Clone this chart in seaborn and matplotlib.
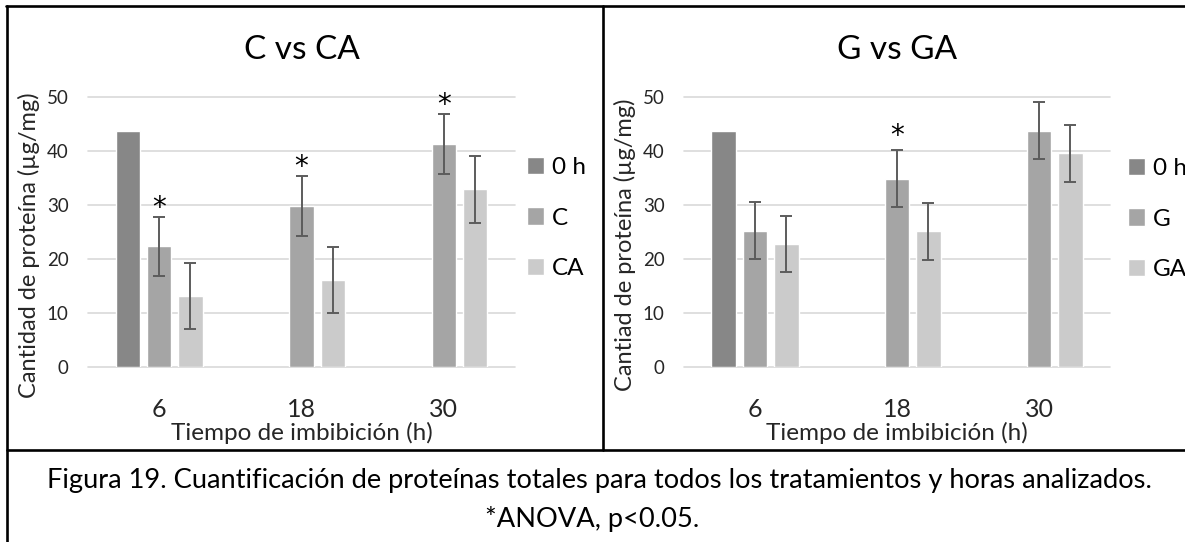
import matplotlib
matplotlib.use("Agg")
import matplotlib.pyplot as plt
import seaborn as sns
import pandas as pd
from matplotlib.lines import Line2D

# ---------------- data ----------------
times = ["6", "18", "30"]

left_series = ["0 h", "C", "CA"]
left_0h = [43.8]                      # only measured at 6 h
left_C = [22.4, 29.9, 41.35]
left_CA = [13.2, 16.2, 33.0]
left_C_err = [5.5, 5.5, 5.55]
left_CA_err = [6.1, 6.15, 6.2]
left_sig = ["6", "18", "30"]          # asterisk over C bars

right_series = ["0 h", "G", "GA"]
right_0h = [43.8]
right_G = [25.3, 34.9, 43.85]
right_GA = [22.85, 25.15, 39.6]
right_G_err = [5.3, 5.3, 5.35]
right_GA_err = [5.25, 5.25, 5.3]
right_sig = ["18"]                    # asterisk over G bars

left_title = "C vs CA"
right_title = "G vs GA"
left_ylabel = "Cantidad de proteína (µg/mg)"
right_ylabel = "Cantiad de proteína (µg/mg)"
xlabel = "Tiempo de imbibición (h)"
caption1 = "Figura 19. Cuantificación de proteínas totales para todos los tratamientos y horas analizados."
caption2 = "*ANOVA, p<0.05."

colors = ["#878787", "#a5a5a5", "#cbcbcb"]

# ---------------- style ----------------
sns.set_style("white")
plt.rcParams["font.family"] = ["Lato", "DejaVu Sans"]
plt.rcParams["text.color"] = "black"

W, H = 1185, 542
fig = plt.figure(figsize=(W / 100, H / 100), dpi=100)


def build(series, v0, v1, v2, e1, e2):
    rows = []
    for t, v in zip(times, v0):
        rows.append((t, series[0], v, 0.0))
    for t, v, e in zip(times, v1, e1):
        rows.append((t, series[1], v, e))
    for t, v, e in zip(times, v2, e2):
        rows.append((t, series[2], v, e))
    return pd.DataFrame(rows, columns=["time", "series", "value", "err"])


def draw(ax, df, series, sig, title, ylabel, leg_xy, star_pts):
    sns.barplot(data=df, x="time", y="value", hue="series", order=times,
                hue_order=series, palette=colors, width=0.66, gap=0.214,
                errorbar=None, saturation=1, ax=ax)
    for p in list(ax.patches):
        h = p.get_height()
        if not (h == h) or h <= 0:
            continue
        xc = p.get_x() + p.get_width() / 2
        t = times[int(round(xc))]
        sub = df[(df.time == t)]
        row = sub.iloc[(sub.value - h).abs().argmin()]
        if row.err > 0:
            ax.errorbar(xc, row.value, yerr=row.err, fmt="none",
                        ecolor="#5c5c5c", elinewidth=1.4, capsize=4.2,
                        capthick=1.4, zorder=5)
        if row.series == series[1] and t in sig:
            ax.annotate("*", (xc, row.value + row.err), xytext=(0, star_pts),
                        textcoords="offset points", ha="center", va="baseline",
                        fontsize=20, color="black", family="DejaVu Sans")
    ax.set_xlim(-0.5, len(times) - 0.5)
    ax.set_ylim(0, 50)
    ax.set_yticks(range(0, 51, 10))
    ax.yaxis.grid(True, color="#d9d9d9", lw=1.2)
    ax.xaxis.grid(False)
    for gl in ax.get_ygridlines():
        gl.set_clip_on(False)
    ax.set_axisbelow(True)
    for s in ax.spines.values():
        s.set_visible(False)
    ax.tick_params(axis="x", length=0, pad=22, labelsize=18)
    ax.tick_params(axis="y", length=0, pad=14, labelsize=13.5)
    ax.set_xlabel(xlabel, fontsize=17.5, va="center")
    ax.xaxis.set_label_coords(0.5, -0.245)
    ax.set_ylabel(ylabel, fontsize=17, va="center")
    ax.yaxis.set_label_coords(-0.138, 0.453)
    ax.text(0.5, 1.175, title, transform=ax.transAxes, ha="center",
            va="center", fontsize=24)
    handles, labels = ax.get_legend_handles_labels()
    if ax.get_legend() is not None:
        ax.get_legend().remove()
    fig.legend(handles, labels, loc="center left",
               bbox_to_anchor=(leg_xy[0] / W, 1 - leg_xy[1] / H),
               bbox_transform=fig.transFigure, frameon=False, fontsize=17.5,
               handlelength=0.7, handleheight=0.7, handletextpad=0.32,
               labelspacing=1.22, borderpad=0, borderaxespad=0)


axL = fig.add_axes([88 / W, (H - 367.3) / H, 427 / W, 270 / H])
axR = fig.add_axes([684 / W, (H - 367.3) / H, 426 / W, 270 / H])

dfL = build(left_series, left_0h, left_C, left_CA, left_C_err, left_CA_err)
dfR = build(right_series, right_0h, right_G, right_GA, right_G_err, right_GA_err)

draw(axL, dfL, left_series, left_sig, left_title, left_ylabel, (527, 218), 0.5)
draw(axR, dfR, right_series, right_sig, right_title, right_ylabel, (1128, 219), 4.5)

# ---------------- frame lines ----------------
lw = 1.9
def fline(x0, y0, x1, y1):
    fig.add_artist(Line2D([x0 / W, x1 / W], [1 - y0 / H, 1 - y1 / H],
                          transform=fig.transFigure, color="black", lw=lw))

fline(6, 6, W, 6)
fline(7, 6, 7, H)
fline(7, 450, W, 450)
fline(603, 6, 603, 450)

# ---------------- caption ----------------
fig.text(599 / W, 1 - 488 / H, caption1, ha="center", va="baseline", fontsize=19.6)
fig.text(0.5, 1 - 527 / H, caption2, ha="center", va="baseline", fontsize=19.6)

fig.savefig("out.png", dpi=100)
